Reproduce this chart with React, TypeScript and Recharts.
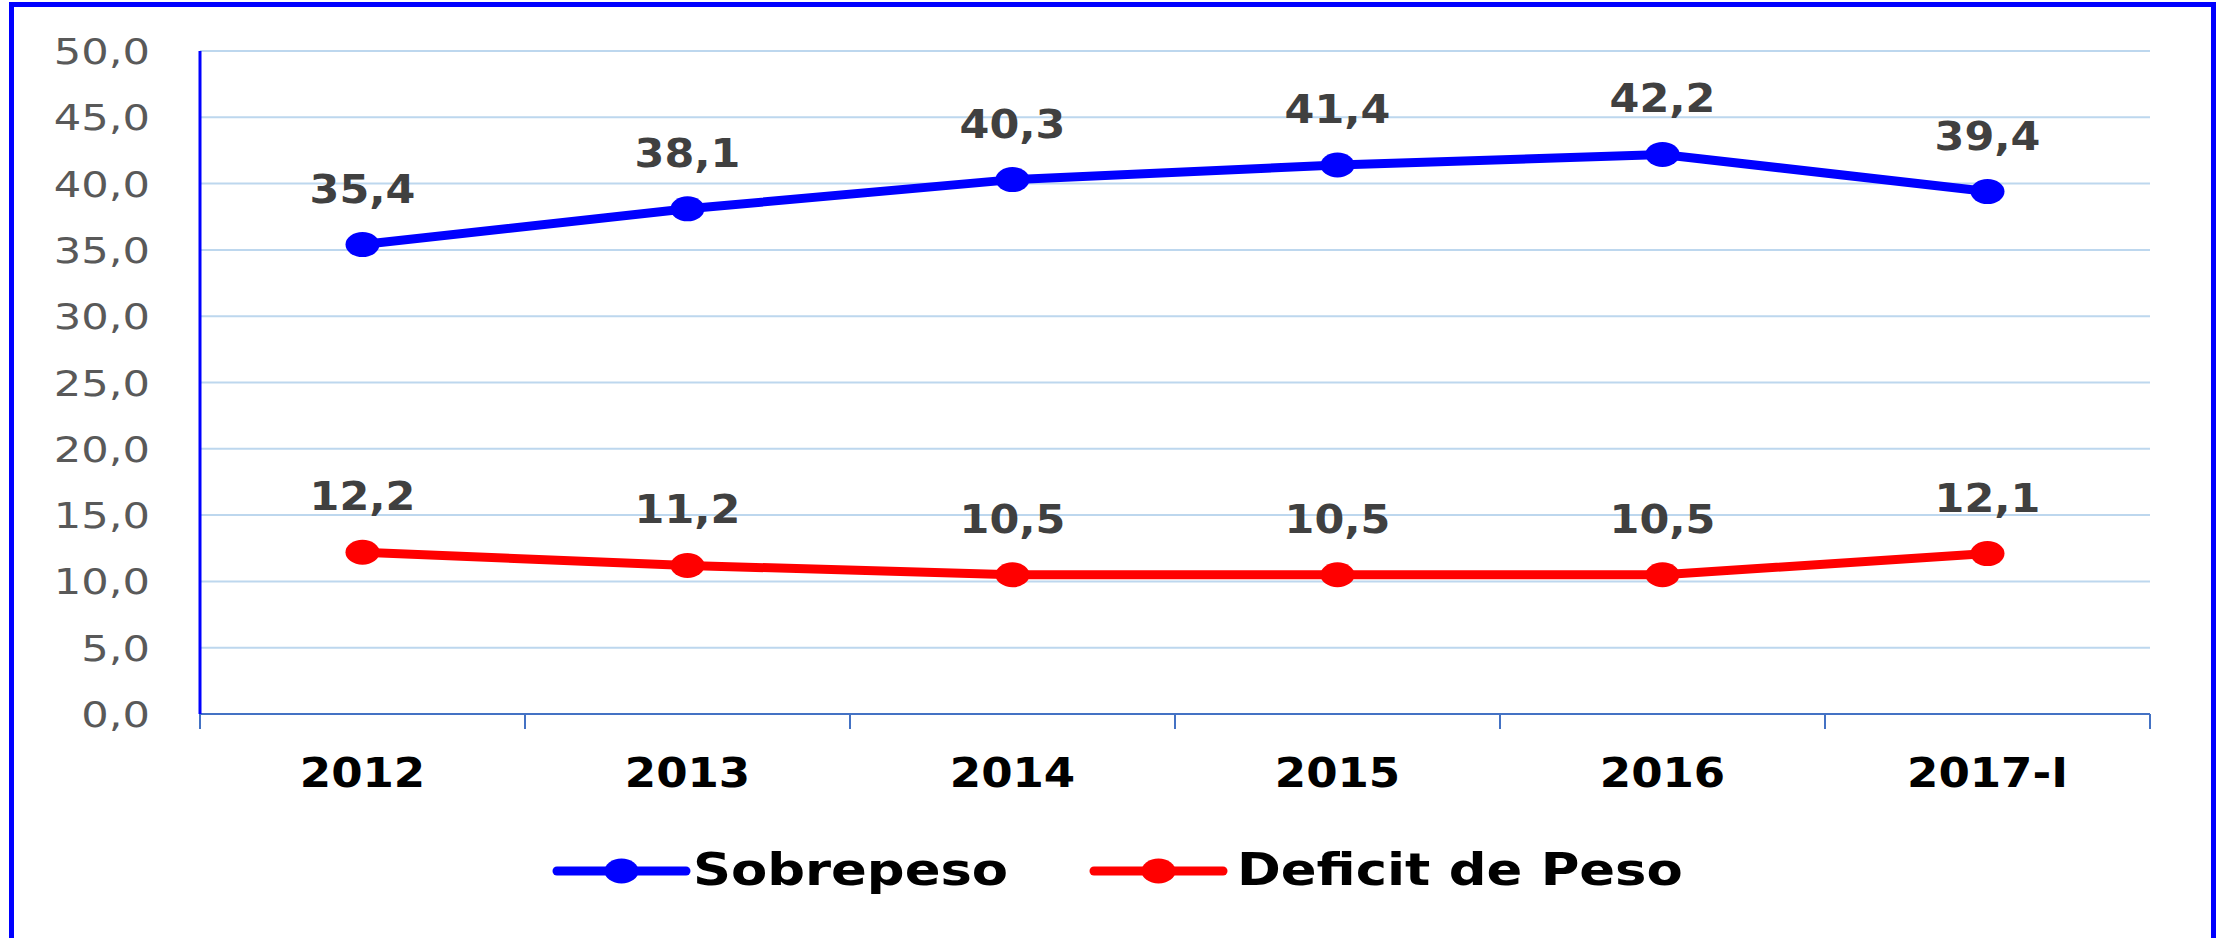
import React from 'react';
import { LineChart, Line, XAxis, YAxis, CartesianGrid, LabelList, Legend } from 'recharts';

const categories = ['2012', '2013', '2014', '2015', '2016', '2017-I'];
const sobrepeso = [35.4, 38.1, 40.3, 41.4, 42.2, 39.4];
const deficit = [12.2, 11.2, 10.5, 10.5, 10.5, 12.1];
const yTicks = [0, 5, 10, 15, 20, 25, 30, 35, 40, 45, 50];
const boundaryTicks = [0, 1, 2, 3, 4, 5, 6];
const seriesNames = ['Sobrepeso', 'Deficit de Peso'];
const seriesColors = ['#0000FF', '#FF0000'];

const data = categories.map((c, i) => ({ cat: c, idx: i, sob: sobrepeso[i], def: deficit[i] }));

const fmt = (v: number) => Number(v).toFixed(1).replace('.', ',');

const W = 2221;
const H = 938;
const FONT = '"DejaVu Sans", sans-serif';
const LEGEND_TOP = 820;
const LEGEND_H = 80;

const YTick = (props: any) => {
  const { x, y, payload } = props;
  return (
    <text
      transform={`translate(${x - 50},${y + 13}) scale(1.2,1)`}
      textAnchor="end"
      fontFamily={FONT}
      fontSize={36}
      fill="#595959"
    >
      {fmt(payload.value)}
    </text>
  );
};

const XTick = (props: any) => {
  const { x, y, payload } = props;
  return (
    <text
      transform={`translate(${x},${y + 58}) scale(1.1,1)`}
      textAnchor="middle"
      fontFamily={FONT}
      fontWeight="bold"
      fontSize={41}
      fill="#000000"
    >
      {payload.value}
    </text>
  );
};

const makeLabel = () => (props: any) => {
  const { x, y, value } = props;
  return (
    <text
      transform={`translate(${x},${y - 42}) scale(1.1,1)`}
      textAnchor="middle"
      fontFamily={FONT}
      fontWeight="bold"
      fontSize={39}
      fill="#404040"
    >
      {fmt(value)}
    </text>
  );
};

const makeDot = (color: string) => (p: any) => (
  <ellipse key={`dot-${p.index}`} cx={p.cx} cy={p.cy} rx={17} ry={12.5} fill={color} />
);

const legendLayout = [
  { lineStart: 557, lineEnd: 686, textX: 693 },
  { lineStart: 1094, lineEnd: 1223, textX: 1237 },
];

const renderLegend = () => (
  <svg width={W} height={LEGEND_H} style={{ display: 'block' }}>
    {seriesNames.map((name, i) => {
      const l = legendLayout[i];
      const cy = 51;
      return (
        <g key={name}>
          <line
            x1={l.lineStart}
            x2={l.lineEnd}
            y1={cy}
            y2={cy}
            stroke={seriesColors[i]}
            strokeWidth={9}
            strokeLinecap="round"
          />
          <ellipse cx={(l.lineStart + l.lineEnd) / 2} cy={cy} rx={17} ry={12.5} fill={seriesColors[i]} />
          <text
            transform={`translate(${l.textX},${cy + 14}) scale(1.2,1)`}
            fontFamily={FONT}
            fontWeight="bold"
            fontSize={44}
            fill="#000000"
          >
            {name}
          </text>
        </g>
      );
    })}
  </svg>
);

export default function App() {
  return (
    <div
      style={{
        position: 'absolute',
        left: 0,
        top: 0,
        width: W,
        height: H,
        overflow: 'hidden',
        background: '#ffffff',
      }}
    >
      <div
        style={{
          position: 'absolute',
          left: 9,
          top: 2,
          width: 2207,
          height: 1000,
          boxSizing: 'border-box',
          border: '5px solid #0000FF',
        }}
      />
      <div style={{ position: 'absolute', left: 0, top: 0 }}>
        <LineChart
          width={W}
          height={H}
          data={data}
          margin={{ top: 51, right: 71, left: 0, bottom: 49 }}
        >
          <CartesianGrid
            xAxisId="cat"
            yAxisId={0}
            vertical={false}
            stroke="#BDD7EE"
            strokeWidth={2}
          />
          <XAxis
            xAxisId="bounds"
            dataKey="idx"
            type="number"
            scale="linear"
            domain={[0, 6]}
            allowDataOverflow={true}
            ticks={boundaryTicks}
            interval={0}
            height={15}
            tickSize={15}
            axisLine={{ stroke: '#4472C4', strokeWidth: 2 }}
            tickLine={{ stroke: '#4472C4', strokeWidth: 2 }}
            tick={() => <g />}
          />
          <XAxis
            xAxisId="cat"
            dataKey="cat"
            type="category"
            scale="band"
            interval={0}
            height={80}
            tickSize={0}
            tickMargin={0}
            axisLine={false}
            tickLine={false}
            tick={<XTick />}
          />
          <YAxis
            yAxisId={0}
            width={200}
            domain={[0, 50]}
            ticks={yTicks}
            interval={0}
            tickSize={0}
            tickMargin={0}
            tickLine={false}
            axisLine={{ stroke: '#0000FF', strokeWidth: 3 }}
            tick={<YTick />}
          />
          <Legend
            verticalAlign="bottom"
            content={renderLegend}
            wrapperStyle={{ position: 'absolute', left: 0, top: LEGEND_TOP, width: W, height: LEGEND_H, margin: 0 }}
          />
          <Line
            xAxisId="cat"
            yAxisId={0}
            name={seriesNames[0]}
            dataKey="sob"
            stroke={seriesColors[0]}
            strokeWidth={9}
            dot={makeDot(seriesColors[0])}
            activeDot={false}
            isAnimationActive={false}
          >
            <LabelList dataKey="sob" content={makeLabel()} />
          </Line>
          <Line
            xAxisId="cat"
            yAxisId={0}
            name={seriesNames[1]}
            dataKey="def"
            stroke={seriesColors[1]}
            strokeWidth={9}
            dot={makeDot(seriesColors[1])}
            activeDot={false}
            isAnimationActive={false}
          >
            <LabelList dataKey="def" content={makeLabel()} />
          </Line>
        </LineChart>
      </div>
    </div>
  );
}
